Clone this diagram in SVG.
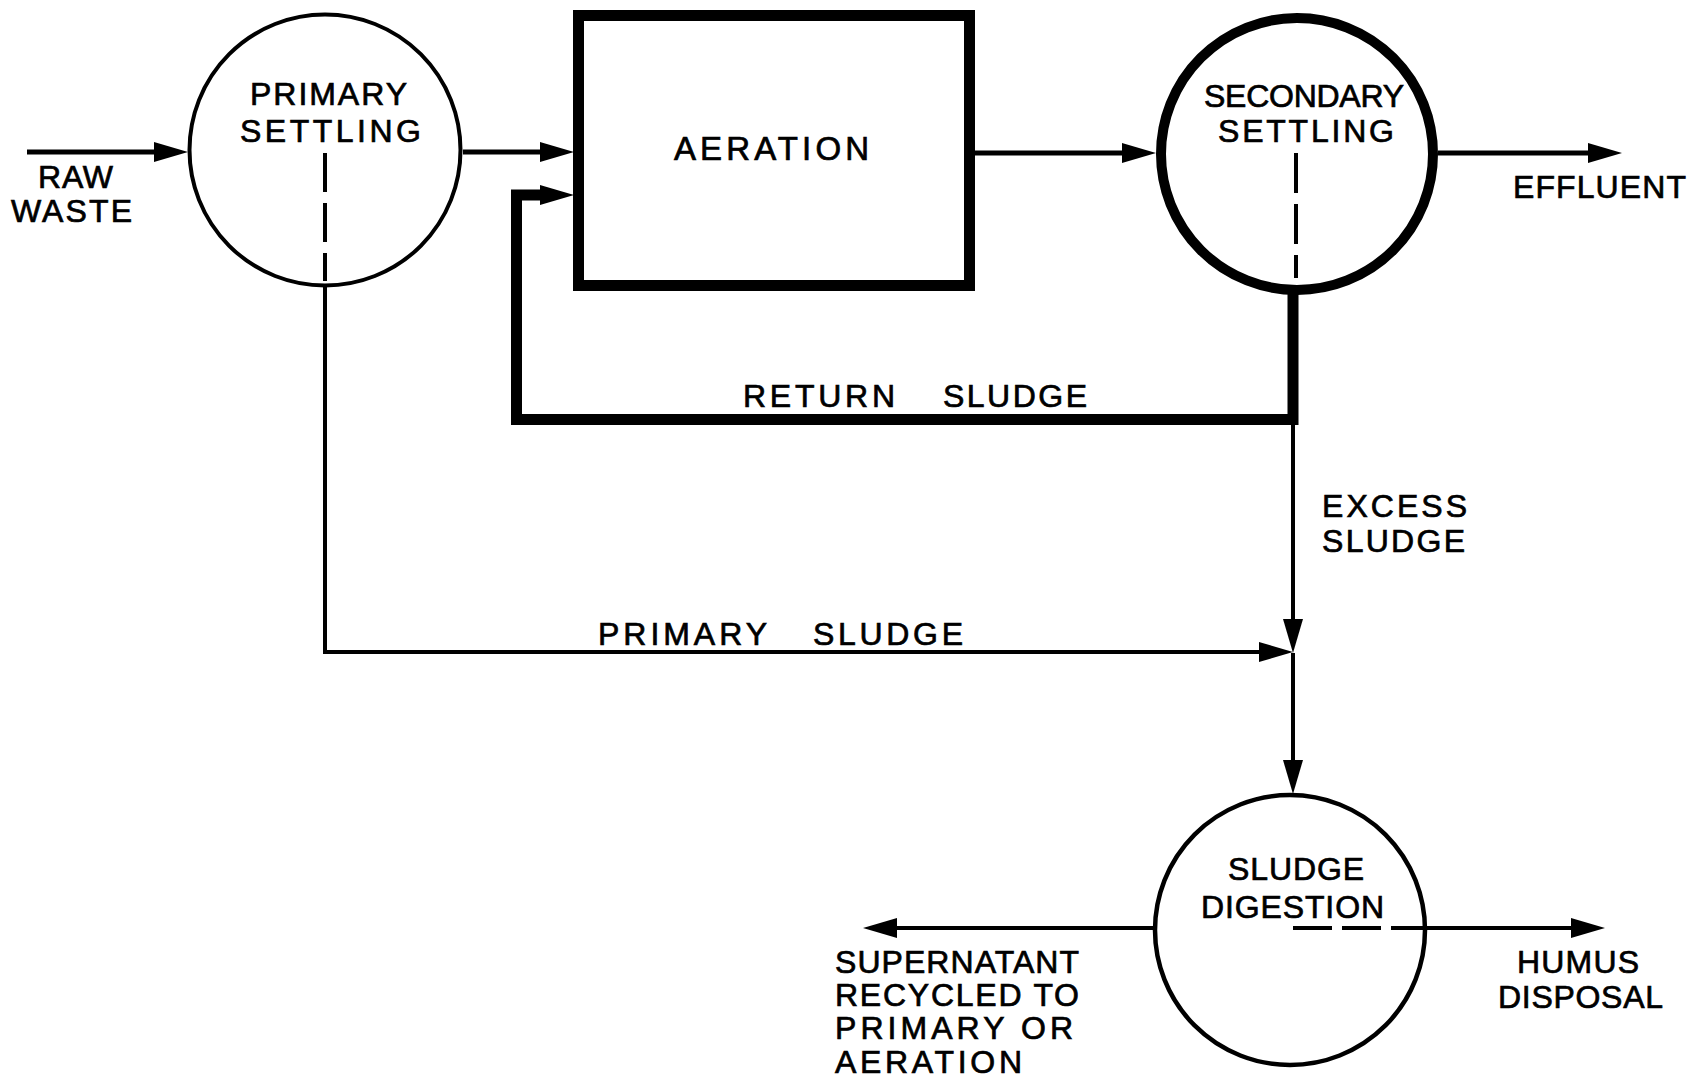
<svg xmlns="http://www.w3.org/2000/svg" width="1698" height="1087" viewBox="0 0 1698 1087">
<style>
.ln{stroke:#000;fill:none;stroke-width:5}
.thin{stroke-width:4}
.thick{stroke-width:11}
.dash{stroke-dasharray:39 11}
.node{fill:#fff;stroke:#000}
.t{font-family:"Liberation Sans",Arial,sans-serif;font-size:32px;fill:#000;stroke:#000;stroke-width:0.7}
</style>
<defs>
<marker id="ah" markerUnits="userSpaceOnUse" viewBox="0 0 34 20" markerWidth="34" markerHeight="20" refX="0" refY="10" orient="auto">
<path d="M0,0 L34,10 L0,20 z" fill="#000"/>
</marker>
</defs>
<rect width="1698" height="1087" fill="#fff"/>

<g id="connectors">
<path class="ln" d="M27,152 H154" marker-end="url(#ah)"/>
<path class="ln" d="M463,152 H540" marker-end="url(#ah)"/>
<path class="ln" d="M975,153 H1122" marker-end="url(#ah)"/>
<path class="ln" d="M1438,153 H1588" marker-end="url(#ah)"/>
<path class="ln thick" d="M1293,290 V419.5 H516.5 V195 H540" stroke-linejoin="miter" marker-end="url(#ah)"/>
<path class="ln thin" d="M325,287 V652 H1259" marker-end="url(#ah)"/>
<path class="ln thin" d="M1293,425 V619" marker-end="url(#ah)"/>
<path class="ln thin" d="M1293,653 V760" marker-end="url(#ah)"/>
<path class="ln thin" d="M1155,928 H897" marker-end="url(#ah)"/>
<path class="ln thin" d="M1425,928 H1571" marker-end="url(#ah)"/>
<text class="t" x="743" y="407" textLength="152" lengthAdjust="spacing">RETURN</text>
<text class="t" x="943" y="407" textLength="144" lengthAdjust="spacing">SLUDGE</text>
<text class="t" x="598" y="645" textLength="169" lengthAdjust="spacing">PRIMARY</text>
<text class="t" x="813" y="645" textLength="150" lengthAdjust="spacing">SLUDGE</text>
<text class="t" x="1322" y="517" textLength="145" lengthAdjust="spacing">EXCESS</text>
<text class="t" x="1322" y="552" textLength="143" lengthAdjust="spacing">SLUDGE</text>
<text class="t" x="38" y="188" textLength="75" lengthAdjust="spacing">RAW</text>
<text class="t" x="11" y="222" textLength="121" lengthAdjust="spacing">WASTE</text>
<text class="t" x="1513" y="198" textLength="173" lengthAdjust="spacing">EFFLUENT</text>
<text class="t" x="835" y="973" textLength="244" lengthAdjust="spacing">SUPERNATANT</text>
<text class="t" x="835" y="1006" textLength="244" lengthAdjust="spacing">RECYCLED TO</text>
<text class="t" x="835" y="1039" textLength="238" lengthAdjust="spacing">PRIMARY OR</text>
<text class="t" x="835" y="1073" textLength="187" lengthAdjust="spacing">AERATION</text>
<text class="t" x="1517" y="973" textLength="122" lengthAdjust="spacing">HUMUS</text>
<text class="t" x="1498" y="1008" textLength="165" lengthAdjust="spacing">DISPOSAL</text>
</g>

<g id="primary-settling">
<circle class="node" cx="325" cy="150" r="135.5" stroke-width="4"/>
<path class="ln thin dash" d="M325,153 V281"/>
<text class="t" x="250" y="105" textLength="157" lengthAdjust="spacing">PRIMARY</text>
<text class="t" x="240" y="142" textLength="181" lengthAdjust="spacing">SETTLING</text>
</g>

<g id="aeration">
<rect class="node" x="578.5" y="15.5" width="391" height="270" stroke-width="11"/>
<text class="t" x="674" y="160" textLength="195" lengthAdjust="spacing" style="font-size:33px">AERATION</text>
</g>

<g id="secondary-settling">
<circle class="node" cx="1297" cy="154" r="136" stroke-width="10"/>
<path class="ln thin" d="M1296,153 V278" style="stroke-dasharray:40 11"/>
<text class="t" x="1204" y="107" textLength="200" lengthAdjust="spacing">SECONDARY</text>
<text class="t" x="1218" y="142" textLength="176" lengthAdjust="spacing">SETTLING</text>
</g>

<g id="sludge-digestion">
<circle class="node" cx="1290" cy="930" r="135" stroke-width="4.5"/>
<path class="ln thin" d="M1293,928 H1425" style="stroke-dasharray:39 10"/>
<text class="t" x="1228" y="880" textLength="136" lengthAdjust="spacing">SLUDGE</text>
<text class="t" x="1201" y="918" textLength="183" lengthAdjust="spacing">DIGESTION</text>
</g>
</svg>
